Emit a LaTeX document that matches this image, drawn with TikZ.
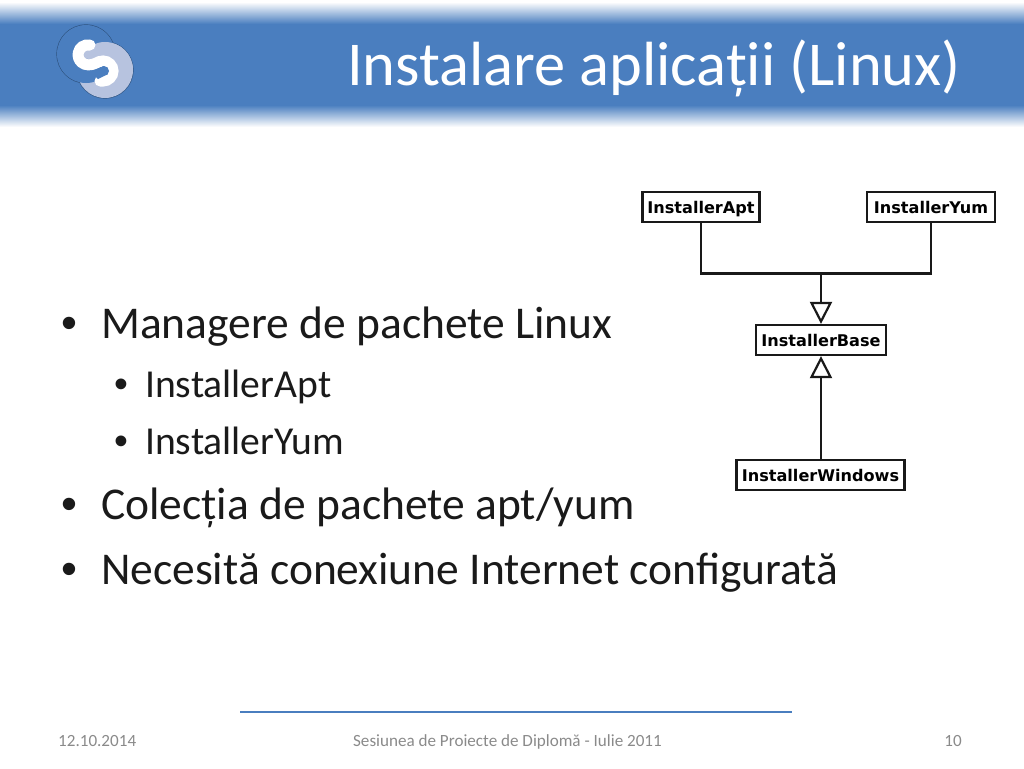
\documentclass[tikz,border=0pt]{standalone}
\usepackage{fontspec}
\setmainfont{Carlito}
\newfontfamily\boxfont{DejaVu Sans}[BoldFont={DejaVu Sans Bold}]
\newfontfamily\dotfont{Liberation Sans}
\usetikzlibrary{arrows.meta, positioning}
\definecolor{bandblue}{HTML}{4A7EBF}
\definecolor{logolav}{HTML}{B7C3DF}
\definecolor{logoedge}{HTML}{2F5380}
\definecolor{footgray}{HTML}{8A8A8A}
\definecolor{textdark}{HTML}{1A1A1A}
\tikzstyle{myarrow} = [-{Triangle[open,length=22pt,width=22pt,line width=2.2pt]}, line width=2.2pt, black!90]
\tikzstyle{plainline} = [line width=2.2pt, black!90]
\tikzstyle{classbox} = [rectangle, draw=black!90, line width=2.2pt, fill=white, inner sep=0pt, minimum height=30pt, text height=14pt, text depth=2pt, font=\boxfont\bfseries\fontsize{16.1}{18}\selectfont]
\tikzstyle{item} = [anchor=base west, inner sep=0pt, text=textdark, font=\fontsize{45.5}{52}\selectfont]
\tikzstyle{subitem} = [anchor=base west, inner sep=0pt, text=textdark, font=\fontsize{39.6}{46}\selectfont]
\tikzstyle{itemdot} = [anchor=base west, inner sep=0pt, text=textdark, font=\dotfont\fontsize{45.5}{52}\selectfont]
\tikzstyle{subdot} = [anchor=base west, inner sep=0pt, text=textdark, font=\dotfont\fontsize{39.6}{46}\selectfont]
\tikzstyle{foot} = [anchor=base, inner sep=0pt, text=footgray, font=\fontsize{17.1}{20}\selectfont]
\begin{document}
\begin{tikzpicture}[x=1pt, y=-1pt]
\useasboundingbox (0,0) rectangle (1024,768);

% header band
\shade[top color=white, bottom color=bandblue] (0,2) rectangle (1024,24);
\fill[bandblue] (0,24) rectangle (1024,105);
\shade[top color=bandblue, bottom color=white] (0,105) rectangle (1024,127);
\node (title) [anchor=base east, inner sep=0pt, text=white, font=\fontsize{62.4}{72}\selectfont] at (961,85) {Instalare aplicații (Linux)};

% logo
\draw[logoedge, line width=1.2pt] (105,70) circle (28);
\draw[logoedge, line width=1.2pt] (86,54) circle (29);
\fill[logolav] (105,70) circle (28);
\fill[bandblue] (86,54) circle (29);
\begin{scope}
\clip (105,70) circle (28);
\fill[logolav] (84,47) -- (88,30) -- (140,30) -- (140,72) -- (114,72) -- (104,58) -- (88,61) -- cycle;
\end{scope}
\fill[logolav] (86,54) circle (5);
\draw[white, line width=11pt, line cap=round] (90,45) arc (-79:-270:10) .. controls (96,65) and (97,61) .. (103,61) arc (-90:90:10) -- (100,81);
\fill[bandblue] (104,71) circle (5);
\fill[bandblue] (90,72) -- (104,66) -- (104,76) -- (98,79) -- cycle;

% text
\node (bulletA) [itemdot] at (61,338) {•};
\node (managers) [item] at (101,338) {Managere de pachete Linux};
\node (bulletB) [subdot] at (114,397) {•};
\node (apt) [subitem] at (145,397) {InstallerApt};
\node (bulletC) [subdot] at (114,454) {•};
\node (yum) [subitem] at (145,454) {InstallerYum};
\node (bulletD) [itemdot] at (61,519) {•};
\node (colectia) [item] at (101,519) {Colecția de pachete apt/yum};
\node (bulletE) [itemdot] at (61,584) {•};
\node (necesita) [item] at (101,584) {Necesită conexiune Internet configurată};

% class diagram
\node (vertapt) [classbox, minimum width=117pt] at (701,207) {InstallerApt};
\node (vertyum) [classbox, minimum width=128pt] at (931,207) {InstallerYum};
\node (vertbase) [classbox, minimum width=130pt] at (821,340) {InstallerBase};
\node (vertwin) [classbox, minimum width=168pt] at (820.5,475) {InstallerWindows};
\coordinate (vertjoin) at (821,273.5);

\draw [plainline] (vertapt.south) |- (vertjoin);
\draw [plainline] (vertyum.south) |- (vertjoin);
\draw [myarrow] (vertjoin) -- (vertbase.north);
\draw [myarrow] (vertwin.north -| vertbase.south) -- (vertbase.south);

% footer
\coordinate (ruleleft) at (240,712);
\coordinate (ruleright) at (792,712);
\draw[bandblue, line width=1.6pt] (ruleleft) -- (ruleright);
\node (date) [foot, anchor=base west] at (58,746) {12.10.2014};
\node (event) [foot] at (507.5,746) {Sesiunea de Proiecte de Diplomă - Iulie 2011};
\node (page) [foot, anchor=base east] at (962,746) {10};
\end{tikzpicture}
\end{document}
